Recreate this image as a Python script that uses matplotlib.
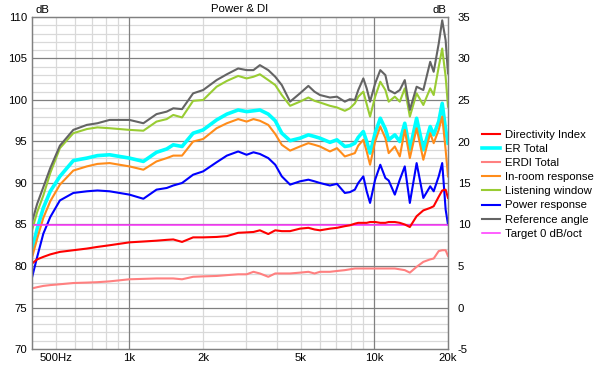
import numpy as np
import matplotlib.pyplot as plt

plt.rcParams['font.family'] = ['Liberation Sans', 'DejaVu Sans']
plt.rcParams['axes.unicode_minus'] = False

# frequency points (Hz)
freq = [400, 420, 445, 475, 520, 590, 670, 740, 830, 1000, 1140, 1290, 1420, 1510,
        1640, 1820, 2000, 2270, 2500, 2780, 3010, 3210, 3410, 3690, 3940, 4190,
        4530, 4970, 5380, 5700, 6000, 6590, 7040, 7580, 7950, 8330, 8600, 9020,
        9310, 9610, 10080, 10580, 11100, 11450, 12130, 12710, 13320, 13970,
        14890, 15860, 16920, 17480, 18330, 18940, 19560, 20000]

# left axis, dB
reference = [85.3, 87.5, 89.5, 91.8, 94.5, 96.4, 97.0, 97.2, 97.6, 97.6, 97.2, 98.3,
             98.6, 99.0, 98.9, 100.8, 101.2, 102.4, 103.1, 103.8, 103.6, 103.6,
             104.2, 103.6, 102.8, 101.8, 99.8, 100.8, 101.7, 101.0, 100.6, 100.3,
             100.4, 99.8, 100.1, 100.0, 101.2, 102.6, 101.4, 99.8, 102.0, 103.6,
             103.0, 101.2, 100.8, 101.2, 102.4, 98.8, 101.6, 101.2, 104.6, 103.4,
             106.8, 109.6, 107.2, 103.2]
listening = [84.3, 86.5, 88.5, 91.2, 94.2, 96.0, 96.5, 96.7, 96.6, 96.4, 96.3, 97.4,
             97.7, 98.2, 97.9, 99.9, 100.0, 101.6, 102.3, 102.9, 102.6, 102.8,
             103.1, 102.4, 101.8, 100.6, 99.3, 99.8, 100.3, 99.9, 99.7, 99.3,
             99.1, 98.7, 99.0, 99.6, 100.4, 101.0, 99.5, 98.0, 100.4, 102.2,
             101.2, 99.8, 100.4, 99.8, 101.4, 98.0, 100.8, 99.4, 101.4, 100.6,
             104.0, 106.2, 102.8, 99.2]
er_total = [82.0, 84.5, 87.0, 89.0, 90.8, 92.7, 93.0, 93.3, 93.4, 93.0, 92.6, 93.7,
            94.1, 94.6, 94.4, 96.0, 96.4, 97.6, 98.3, 98.8, 98.6, 98.7, 98.8,
            98.3, 97.5, 96.0, 95.1, 95.4, 95.8, 95.6, 95.4, 94.9, 95.2, 94.4,
            94.5, 94.8, 95.5, 96.2, 95.0, 93.6, 96.0, 97.8, 96.5, 95.2, 95.8,
            95.0, 97.2, 94.0, 97.8, 94.0, 96.8, 95.8, 97.4, 99.6, 96.4, 94.8]
in_room = [81.0, 83.3, 85.8, 87.8, 89.8, 91.5, 92.0, 92.3, 92.4, 92.0, 91.6, 92.6,
           93.0, 93.3, 93.3, 95.0, 95.3, 96.6, 97.2, 97.7, 97.4, 97.7, 97.5,
           97.0, 95.9, 94.6, 93.9, 94.4, 94.8, 94.6, 94.4, 93.8, 94.2, 93.2,
           93.4, 93.6, 94.5, 95.2, 93.8, 92.2, 95.0, 96.8, 95.4, 93.6, 94.4,
           93.2, 96.4, 93.0, 96.6, 92.8, 96.0, 94.8, 96.4, 98.0, 94.0, 90.8]
power = [78.6, 81.1, 83.9, 85.9, 87.9, 88.8, 89.0, 89.1, 89.0, 88.6, 88.1, 89.2,
         89.4, 89.7, 90.0, 91.0, 91.4, 92.5, 93.3, 93.8, 93.4, 93.7, 93.5, 93.0,
         92.2, 90.8, 89.8, 90.2, 90.4, 90.2, 90.0, 89.7, 89.9, 88.8, 88.9, 89.2,
         90.0, 90.8, 89.0, 87.6, 90.4, 92.2, 90.6, 90.3, 88.6, 90.4, 92.0, 87.6,
         92.4, 88.2, 89.6, 89.0, 90.8, 92.4, 86.8, 85.0]

# right axis, dB
di = [5.3, 5.8, 6.1, 6.4, 6.7, 6.9, 7.1, 7.3, 7.5, 7.85, 7.95, 8.05, 8.15, 8.2,
      7.9, 8.45, 8.45, 8.5, 8.6, 9.0, 9.05, 9.1, 9.3, 8.85, 9.3, 9.2, 9.2, 9.5,
      9.6, 9.4, 9.3, 9.5, 9.6, 9.8, 9.9, 10.1, 10.2, 10.2, 10.2, 10.3, 10.3,
      10.2, 10.2, 10.3, 10.3, 10.2, 10.0, 9.7, 11.0, 11.7, 12.0, 12.2, 13.35,
      14.1, 14.2, 13.2]
erdi = [2.3, 2.45, 2.6, 2.7, 2.8, 2.95, 3.0, 3.05, 3.15, 3.4, 3.45, 3.5, 3.5, 3.5,
        3.4, 3.7, 3.75, 3.8, 3.9, 4.0, 4.0, 4.3, 4.1, 3.7, 4.1, 4.1, 4.1, 4.2,
        4.3, 4.1, 4.3, 4.3, 4.4, 4.5, 4.6, 4.7, 4.7, 4.7, 4.7, 4.7, 4.7, 4.7,
        4.7, 4.7, 4.7, 4.6, 4.5, 4.2, 4.9, 5.5, 5.8, 5.9, 6.8, 6.9, 6.9, 6.2]
target_di = 10

xtick_pos = [500, 1000, 2000, 5000, 10000, 20000]
xtick_lab = ['500Hz', '1k', '2k', '5k', '10k', '20k']

fs = 8.2

fig = plt.figure(figsize=(6, 3.68), dpi=100)
ax = fig.add_axes([32 / 600, 1 - 349 / 368, 416 / 600, 332 / 368])
ax2 = ax.twinx()

ax.set_xscale('log')
ax.set_xlim(400, 20000)
ax.set_ylim(70, 110)
ax2.set_ylim(-5, 35)

# grid
for f in [500, 600, 700, 800, 900, 2000, 3000, 4000, 5000, 6000, 7000, 8000, 9000]:
    ax.axvline(f, color='#d9d9d9', lw=0.9, zorder=0)
for f in [1000, 10000]:
    ax.axvline(f, color='#808080', lw=0.9, zorder=0.5)
for v in range(71, 110):
    if v % 5:
        ax.axhline(v, color='#d9d9d9', lw=0.9, zorder=0)
for v in range(75, 110, 5):
    ax.axhline(v, color='#808080', lw=0.9, zorder=0.5)

lw = 1.5
l_lw, = ax.plot(freq, listening, color='#99cc33', lw=lw, label='Listening window')
l_ref, = ax.plot(freq, reference, color='#646464', lw=lw, label='Reference angle')
l_er, = ax.plot(freq, er_total, color='#00ffff', lw=2.6, label='ER Total')
l_in, = ax.plot(freq, in_room, color='#ff8c1a', lw=lw, label='In-room response')
l_pw, = ax.plot(freq, power, color='#0000ff', lw=lw, label='Power response')

l_tg = ax2.axhline(target_di, color='#ff33ff', lw=1.1, label='Target 0 dB/oct')
l_erdi, = ax2.plot(freq, erdi, color='#ff8080', lw=lw, label='ERDI Total')
l_di, = ax2.plot(freq, di, color='#ff0000', lw=lw, label='Directivity Index')

ax.set_xticks(xtick_pos)
ax.set_xticklabels(xtick_lab)
ax.xaxis.set_minor_locator(plt.NullLocator())
ax.set_yticks(range(70, 111, 5))
ax2.set_yticks(range(-5, 36, 5))
ax.tick_params(axis='both', length=0, labelsize=fs, pad=3.5)
ax2.tick_params(axis='y', length=0, labelsize=fs, pad=7)
ax.tick_params(axis='x', pad=3)

for a in (ax, ax2):
    for s in a.spines.values():
        s.set_color('#808080')
        s.set_linewidth(0.9)

ax.set_title('Power & DI', fontsize=fs, pad=3.5)
fig.text(35 / 600, 1 - 10 / 368, 'dB', fontsize=fs, ha='left', va='center')
fig.text(446 / 600, 1 - 10 / 368, 'dB', fontsize=fs, ha='right', va='center')

handles = [l_di, l_er, l_erdi, l_in, l_lw, l_pw, l_ref, l_tg]
fig.legend(handles=handles, loc='upper left', bbox_to_anchor=(482 / 600, 1 - 130 / 368),
           frameon=False, fontsize=fs, handlelength=1.6, handletextpad=0.45,
           labelspacing=0.36, borderpad=0, borderaxespad=0)

fig.savefig('out.png', dpi=100)
